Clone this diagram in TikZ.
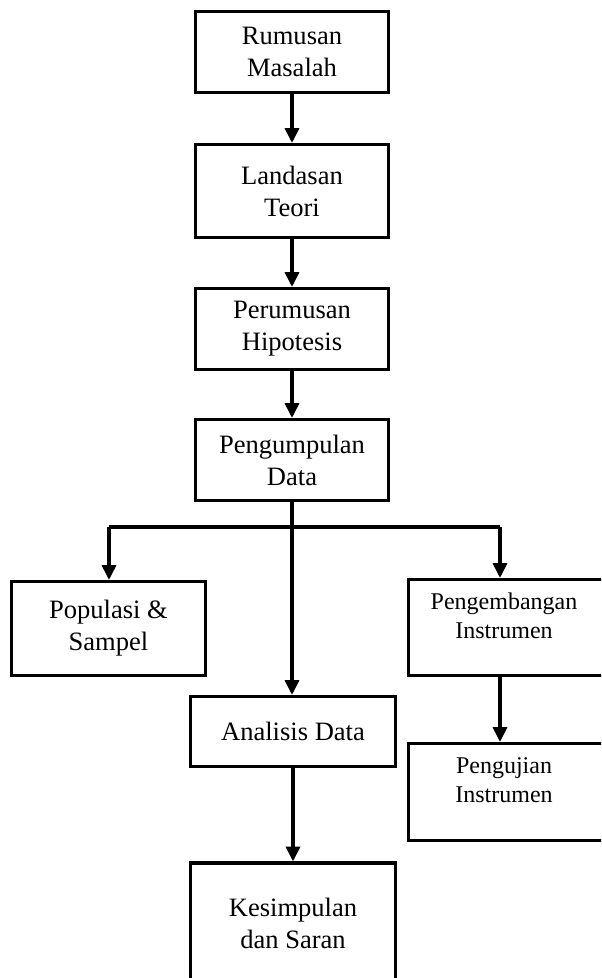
\documentclass[tikz,border=0pt]{standalone}
\usepackage{fontspec}
\setmainfont{Liberation Serif}
\usetikzlibrary{arrows.meta}
\begin{document}
\begin{tikzpicture}[x=0.75pt,y=-0.75pt,
  box/.style={draw, line width=2.4pt, rectangle, inner sep=0pt, align=center,
    font=\fontsize{19.9}{24}\selectfont},
  emptybox/.style={draw, line width=2.4pt, rectangle, inner sep=0pt},
  lbl/.style={inner sep=0pt, align=center, font=\fontsize{19.9}{24}\selectfont},
  smalllbl/.style={inner sep=0pt, align=center, font=\fontsize{18}{21.75}\selectfont},
  flow/.style={line width=2.3pt, -{Triangle[width=10.5pt,length=11pt]}},
  link/.style={line width=2.3pt}]
\useasboundingbox (0,0) rectangle (601,978);
\clip (0,0) rectangle (601,978);

% main column
\node[box, minimum width=144.75pt, minimum height=60.75pt] (rumusan) at (292,52) {Rumusan\\Masalah};
\node[box, minimum width=144.75pt, minimum height=69.75pt] (landasan) at (292,191) {Landasan\\Teori};
\node[box, minimum width=144.75pt, minimum height=60.75pt] (perumusan) at (292,329) {Perumusan\\Hipotesis};
\node[box, minimum width=144.75pt, minimum height=60.75pt] (pengumpulan) at (292,460) {Pengumpulan\\Data};

% left branch
\node[box, minimum width=145.5pt, minimum height=70.5pt] (populasi) at (108.5,628.5) {Populasi \&\\Sampel};

% right branch (boxes run past the right edge)
\node[emptybox, minimum width=146.25pt, minimum height=72pt] (pengembangan) at (506,627.5) {};
\node[smalllbl] (pengembanganText) at (504,615.5) {Pengembangan\\Instrumen};
\node[emptybox, minimum width=146.25pt, minimum height=72.75pt] (pengujian) at (506,792) {};
\node[smalllbl] (pengujianText) at (504,780.5) {Pengujian\\Instrumen};

% analysis and conclusion
\node[box, minimum width=153.75pt, minimum height=52.5pt] (analisis) at (293,731.5) {Analisis Data};
\node[emptybox, minimum width=153.75pt, minimum height=99pt] (kesimpulan) at (293,929) {};
\node[lbl] (kesimpulanText) at (293,923) {Kesimpulan\\dan Saran};

% branching point below data collection
\coordinate (split) at (292,527);
\coordinate (splitL) at (109,527);
\coordinate (splitR) at (500,527);
\coordinate (devTop) at (500,627.5 |- pengembangan.north);

% connectors
\draw[flow] (rumusan) -- (landasan);
\draw[flow] (landasan) -- (perumusan);
\draw[flow] (perumusan) -- (pengumpulan);
\draw[flow] (pengumpulan.south) -- (pengumpulan.south |- analisis.north);
\draw[link] (splitL) -- (splitR);
\draw[flow] (splitL) -- (splitL |- populasi.north);
\draw[flow] (splitR) -- (splitR |- pengembangan.north);
\draw[flow] (splitR |- pengembangan.south) -- (splitR |- pengujian.north);
\draw[flow] (analisis) -- (kesimpulan);
\end{tikzpicture}
\end{document}
